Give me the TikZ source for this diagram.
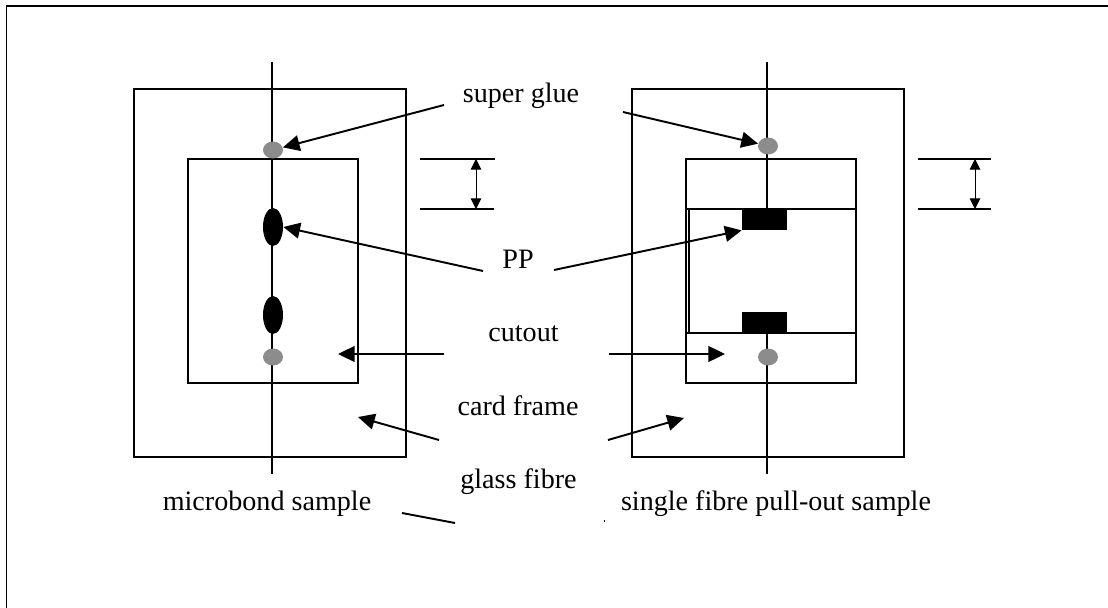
\documentclass[tikz,border=0pt]{standalone}
\usepackage{fontspec}
\setmainfont{Liberation Serif}
\usetikzlibrary{arrows.meta,shapes}
\def\unitpx{*0.02cm}
\tikzset{
	glue/.style={ellipse,fill=gray!90,inner sep=0pt,minimum width=20\unitpx,minimum height=17\unitpx},
	bead/.style={ellipse,fill=black,inner sep=0pt,minimum width=20\unitpx,minimum height=38\unitpx},
	block/.style={fill=black,inner sep=0pt,minimum width=45\unitpx,minimum height=21\unitpx},
	lbl/.style={inner sep=0pt,anchor=base,font=\fontsize{16pt}{18pt}\selectfont},
	line/.style={line width=1.1pt},
	pointer/.style={line width=1.1pt,-{Triangle[length=9.5pt,width=9pt]}},
	gauge/.style={line width=0.5pt,{Triangle[length=6pt,width=6pt]}-{Triangle[length=6pt,width=6pt]}}
}
\begin{document}
\begin{tikzpicture}[x=0.02cm,y=-0.02cm]
	\useasboundingbox (0,0) rectangle (1108,608);
	% page rim
	\coordinate (pb) at (6.5,608);
	\coordinate (pa) at (6.5,6);
	\coordinate (pc) at (1108,6);
	\draw[line] (pb) -- (pa) -- (pc);
	% left sample
	\coordinate (lo1) at (134,89);
	\coordinate (lo2) at (406,457);
	\coordinate (li1) at (188,159);
	\coordinate (li2) at (358,383);
	\coordinate (lf1) at (272,62);
	\coordinate (lf2) at (272,474);
	\draw[line] (lo1) rectangle (lo2);
	\draw[line] (li1) rectangle (li2);
	\draw[line] (lf1) -- (lf2);
	\node[glue] (glueL1) at (273,150) {};
	\node[glue] (glueL2) at (273,357) {};
	\node[bead] (beadL1) at (273,227) {};
	\node[bead] (beadL2) at (273,315) {};
	% right sample
	\coordinate (ro1) at (632,89);
	\coordinate (ro2) at (904,457);
	\coordinate (ri1) at (686,159);
	\coordinate (ri2) at (856,383);
	\coordinate (rm1) at (689,209);
	\coordinate (rm2) at (856,333);
	\coordinate (rm0) at (686,209);
	\coordinate (rm3) at (686,333);
	\draw[line] (ro1) rectangle (ro2);
	\draw[line] (ri1) rectangle (ri2);
	\draw[line] (rm1) rectangle (rm2);
	\draw[line] (rm0) -- (rm1);
	\draw[line] (rm3) -- (rm1 |- rm2);
	\node[block] (blockR1) at (764.5,219.5) {};
	\node[block] (blockR2) at (764.5,322.5) {};
	\coordinate (rf1) at (767,62);
	\coordinate (rf2) at (767,474);
	\draw[line] (rf1) -- (blockR1.north -| rf1);
	\draw[line] (blockR2.south -| rf1) -- (rf2);
	\node[glue] (glueR1) at (768,146) {};
	\node[glue] (glueR2) at (768,357) {};
	% gauges
	\coordinate (gl1) at (420,159);
	\coordinate (gl2) at (495,159);
	\coordinate (gl3) at (420,209);
	\coordinate (gl4) at (494,209);
	\coordinate (gl5) at (476,159);
	\coordinate (gl6) at (476,209);
	\draw[line] (gl1) -- (gl2);
	\draw[line] (gl3) -- (gl4);
	\draw[gauge] (gl5) -- (gl6);
	\coordinate (gr1) at (918,159);
	\coordinate (gr2) at (991,159);
	\coordinate (gr3) at (918,209);
	\coordinate (gr4) at (991,209);
	\coordinate (gr5) at (975,159);
	\coordinate (gr6) at (975,209);
	\draw[line] (gr1) -- (gr2);
	\draw[line] (gr3) -- (gr4);
	\draw[gauge] (gr5) -- (gr6);
	% labels
	\node[lbl] (tglue) at (521,103) {super glue};
	\node[lbl] (tpp) at (518,268) {PP};
	\node[lbl] (tcut) at (523.5,341) {cutout};
	\node[lbl] (tcard) at (518,415) {card frame};
	\node[lbl] (tfibre) at (518.5,488) {glass fibre};
	\node[lbl] (tmicro) at (267,510) {microbond sample};
	\node[lbl] (tsingle) at (776,510) {single fibre pull-out sample};
	% pointers
	\coordinate (a1) at (444,105);
	\coordinate (a2) at (623,112);
	\coordinate (a3) at (483,271);
	\coordinate (a4) at (554,270);
	\coordinate (a5) at (444,354);
	\coordinate (a6) at (338,354);
	\coordinate (a7) at (609,354);
	\coordinate (a8) at (725,354);
	\coordinate (a9) at (439,440);
	\coordinate (a10) at (358,417);
	\coordinate (a11) at (608,440);
	\coordinate (a12) at (684,418);
	\draw[pointer] (a1) -- (glueL1);
	\draw[pointer] (a2) -- (glueR1);
	\draw[pointer] (a3) -- (beadL1.east);
	\draw[pointer] (a4) -- (blockR1.south west);
	\draw[pointer] (a5) -- (a6);
	\draw[pointer] (a7) -- (a8);
	\draw[pointer] (a9) -- (a10);
	\draw[pointer] (a11) -- (a12);
	% leftover strokes
	\coordinate (s1) at (402,513);
	\coordinate (s2) at (455,523);
	\coordinate (s3) at (604,520);
	\coordinate (s4) at (604,522);
	\draw[line] (s1) -- (s2);
	\draw[line width=0.5pt] (s3) -- (s4);
\end{tikzpicture}
\end{document}
